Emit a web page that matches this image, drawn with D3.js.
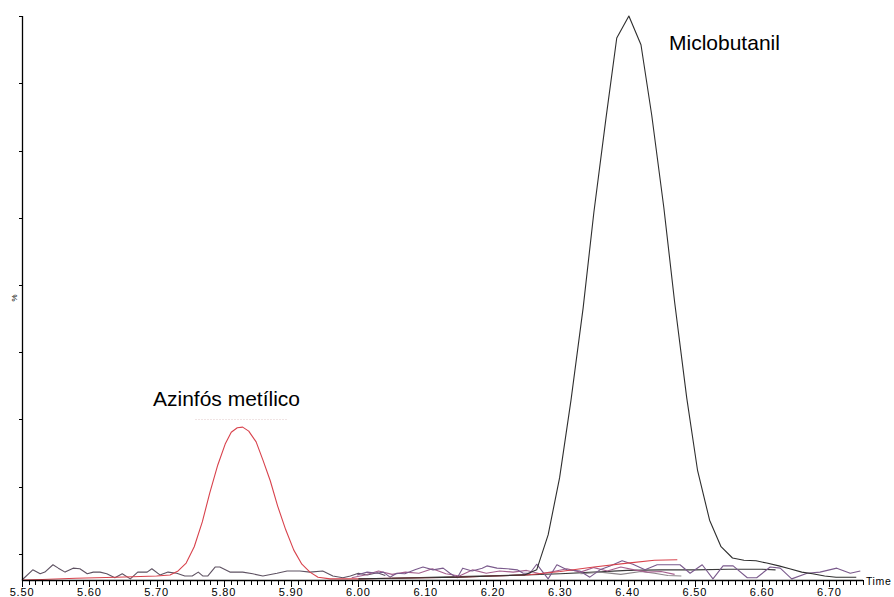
<!DOCTYPE html>
<html>
<head>
<meta charset="utf-8">
<script src="https://cdn.jsdelivr.net/npm/d3@7"></script>
<style>
  html, body { margin: 0; padding: 0; background: #fff; }
  svg { display: block; }
  text { font-family: Arial, "Liberation Sans", sans-serif; fill: #000; }
</style>
</head>
<body>
<svg id="chart" width="894" height="597"></svg>
<script>
// Retention-time axis (minutes) and relative-intensity axis (%)
const timeTicks = [5.5, 5.6, 5.7, 5.8, 5.9, 6.0, 6.1, 6.2, 6.3, 6.4, 6.5, 6.6, 6.7];
const timeTickLabels = ["5.50", "5.60", "5.70", "5.80", "5.90", "6.00", "6.10", "6.20", "6.30", "6.40", "6.50", "6.60", "6.70"];
const pctTicks = [4.6, 16.5, 28.5, 40.4, 52.3, 64.2, 76.1, 88.1, 100];

// Azinfós metílico trace (red)
const azinfosTime = [5.50, 5.53, 5.58, 5.64, 5.70, 5.720, 5.732, 5.744, 5.756, 5.768, 5.779, 5.791, 5.802, 5.811, 5.820, 5.828, 5.837, 5.848, 5.858, 5.869, 5.880, 5.892, 5.904, 5.916, 5.928, 5.940, 5.958, 6.00, 6.05, 6.10, 6.15, 6.20, 6.25, 6.30, 6.35, 6.40, 6.44, 6.474];
const azinfosPct  = [0.0, 0.1, 0.3, 0.5, 0.7, 0.9, 1.6, 3.0, 5.9, 10.3, 15.4, 20.4, 24.1, 26.2, 27.0, 27.1, 26.4, 24.5, 21.3, 17.6, 13.1, 8.9, 5.3, 2.8, 1.4, 0.5, 0.2, 0.2, 0.3, 0.4, 0.5, 0.7, 0.9, 1.5, 2.3, 3.0, 3.5, 3.6];

// Miclobutanil trace (black)
const miclobutanilTime = [6.00, 6.05, 6.10, 6.15, 6.20, 6.247, 6.265, 6.282, 6.299, 6.316, 6.334, 6.350, 6.368, 6.384, 6.402, 6.420, 6.436, 6.454, 6.470, 6.488, 6.504, 6.522, 6.539, 6.556, 6.573, 6.591, 6.607, 6.625, 6.641, 6.659, 6.675, 6.693, 6.710, 6.740];
const miclobutanilPct  = [0.2, 0.3, 0.4, 0.5, 0.7, 0.9, 1.8, 8.0, 18.1, 31.9, 48.2, 65.2, 81.9, 96.1, 100, 94.9, 82.4, 66.0, 49.3, 32.3, 19.5, 10.6, 5.9, 3.9, 3.5, 3.4, 3.0, 2.5, 2.0, 1.4, 1.1, 0.7, 0.5, 0.5];

// Background transitions
const noiseATime = [5.50, 5.516, 5.527, 5.534, 5.546, 5.554, 5.564, 5.576, 5.586, 5.597, 5.606, 5.616, 5.626, 5.638, 5.649, 5.661, 5.672, 5.686, 5.693, 5.705, 5.717, 5.730, 5.742, 5.753, 5.762, 5.769, 5.776, 5.787, 5.794, 5.809, 5.828, 5.843, 5.858, 5.879, 5.894, 5.913, 5.928, 5.947, 5.962, 5.977, 5.988, 6.000, 6.013, 6.028, 6.040];
const noiseAPct  = [0.0, 1.8, 1.1, 1.4, 2.7, 2.1, 1.4, 2.1, 2.0, 1.1, 1.4, 1.4, 1.1, 0.4, 1.1, 0.2, 1.4, 1.4, 2.0, 0.9, 1.4, 1.2, 0.7, 0.7, 1.4, 0.7, 0.7, 2.3, 2.3, 1.4, 1.4, 1.1, 0.7, 1.2, 1.6, 1.6, 1.4, 1.6, 0.7, 0.4, 0.7, 1.2, 0.9, 1.3, 0.8];

const noiseBTime = [5.998, 6.013, 6.028, 6.037, 6.047, 6.057, 6.069, 6.084, 6.096, 6.111, 6.126, 6.136, 6.147, 6.155, 6.169, 6.184, 6.191, 6.206, 6.221, 6.236, 6.245, 6.255, 6.265, 6.282, 6.295, 6.310, 6.329, 6.344, 6.359, 6.374, 6.392, 6.408, 6.426, 6.444, 6.460, 6.478, 6.493, 6.511, 6.527, 6.542, 6.557, 6.578, 6.592, 6.612, 6.627, 6.644, 6.667, 6.686, 6.711, 6.731, 6.746];
const noiseBPct  = [0.9, 1.4, 1.2, 1.4, 0.5, 1.2, 1.1, 1.8, 2.3, 1.8, 2.1, 1.2, 0.4, 2.1, 1.6, 2.1, 2.5, 2.1, 2.0, 1.8, 1.2, 1.2, 2.8, 0.2, 2.7, 1.8, 1.6, 0.5, 1.8, 2.5, 3.4, 2.8, 1.8, 2.7, 2.7, 2.7, 1.2, 2.7, 0.2, 2.5, 2.5, 0.4, 0.4, 2.3, 2.1, 0.2, 1.2, 1.4, 2.1, 1.2, 1.6];

const noiseCTime = [5.99, 6.01, 6.03, 6.05, 6.07, 6.09, 6.11, 6.13, 6.15, 6.17, 6.19, 6.21, 6.23, 6.25, 6.27, 6.29, 6.31, 6.33, 6.35, 6.37, 6.39, 6.41, 6.43, 6.45, 6.47];
const noiseCPct  = [0.4, 0.9, 1.6, 1.0, 1.4, 1.2, 2.0, 1.1, 0.7, 1.8, 1.2, 1.6, 1.4, 1.7, 1.1, 1.5, 2.0, 1.4, 2.2, 1.6, 2.3, 1.8, 1.4, 1.5, 1.0];

const noiseDTime = [6.05, 6.15, 6.25, 6.30, 6.35, 6.40, 6.45, 6.50, 6.55, 6.60, 6.62];
const noiseDPct  = [0.3, 0.6, 0.9, 1.1, 1.4, 1.7, 1.8, 1.8, 1.9, 1.9, 1.8];

const noiseETime = [6.33, 6.36, 6.39, 6.42, 6.44, 6.46, 6.48];
const noiseEPct  = [1.1, 1.4, 1.0, 1.5, 1.2, 0.8, 0.7];

const traces = [
  { t: noiseATime, v: noiseAPct, color: "#5e5262" },
  { t: noiseDTime, v: noiseDPct, color: "#3a3a3a" },
  { t: noiseETime, v: noiseEPct, color: "#8a8488" },
  { t: noiseCTime, v: noiseCPct, color: "#a5608e" },
  { t: noiseBTime, v: noiseBPct, color: "#7a5a8c" },
  { t: azinfosTime, v: azinfosPct, color: "#d8424c" },
  { t: miclobutanilTime, v: miclobutanilPct, color: "#2e2e2e" }
];

const svg = d3.select("#chart");
const x = d3.scaleLinear().domain([5.5, 6.75]).range([22, 863]);
const y = d3.scaleLinear().domain([0, 100]).range([580, 16]);

// Traces
const line = d3.line().x(d => x(d[0])).y(d => y(d[1]));
traces.forEach(tr => {
  svg.append("path")
    .datum(d3.zip(tr.t, tr.v))
    .attr("fill", "none")
    .attr("stroke", tr.color)
    .attr("stroke-width", 1.1)
    .attr("stroke-linejoin", "round")
    .attr("d", line);
});

// X axis: minor ticks every 0.01 min, labelled majors every 0.1 min
const minorTicks = d3.range(0, 126).map(i => 5.5 + i * 0.01);
const xg = svg.append("g");
xg.append("line").attr("x1", x(5.5)).attr("x2", x(6.75)).attr("y1", 580.5).attr("y2", 580.5)
  .attr("stroke", "#000").attr("stroke-width", 1.3);
xg.selectAll("line.minor").data(minorTicks).join("line").attr("class", "minor")
  .attr("x1", d => Math.round(x(d)) + 0.5).attr("x2", d => Math.round(x(d)) + 0.5)
  .attr("y1", 580).attr("y2", 585).attr("stroke", "#000").attr("stroke-width", 1);
xg.selectAll("line.major").data(timeTicks).join("line").attr("class", "major")
  .attr("x1", d => Math.round(x(d)) + 0.5).attr("x2", d => Math.round(x(d)) + 0.5)
  .attr("y1", 580).attr("y2", 587).attr("stroke", "#000").attr("stroke-width", 1);
xg.selectAll("text").data(timeTicks).join("text")
  .attr("x", d => x(d)).attr("y", 596)
  .attr("text-anchor", "middle").attr("font-size", 11).attr("letter-spacing", 0.8)
  .text((d, i) => timeTickLabels[i]);
svg.append("text").attr("x", 866).attr("y", 585).attr("font-size", 10.5).attr("letter-spacing", 0.6).text("Time");

// Y axis
const yg = svg.append("g");
yg.append("line").attr("x1", 22.5).attr("x2", 22.5).attr("y1", 16).attr("y2", 581)
  .attr("stroke", "#000").attr("stroke-width", 1.3);
yg.selectAll("line.tick").data(pctTicks).join("line").attr("class", "tick")
  .attr("x1", 19).attr("x2", 22).attr("y1", d => Math.round(y(d)) + 0.5).attr("y2", d => Math.round(y(d)) + 0.5)
  .attr("stroke", "#000").attr("stroke-width", 1);
svg.append("text").attr("transform", "translate(17,298) rotate(-90)")
  .attr("text-anchor", "middle").attr("font-size", 8).text("%");

// Peak annotations
svg.append("line").attr("x1", 195).attr("x2", 288).attr("y1", 419.5).attr("y2", 419.5)
  .attr("stroke", "#f0e4e4").attr("stroke-width", 1).attr("stroke-dasharray", "2,1");
svg.append("text").attr("x", 153).attr("y", 406).attr("font-size", 21).text("Azinfós metílico");
svg.append("text").attr("x", 669).attr("y", 50).attr("font-size", 21).text("Miclobutanil");
</script>
</body>
</html>
